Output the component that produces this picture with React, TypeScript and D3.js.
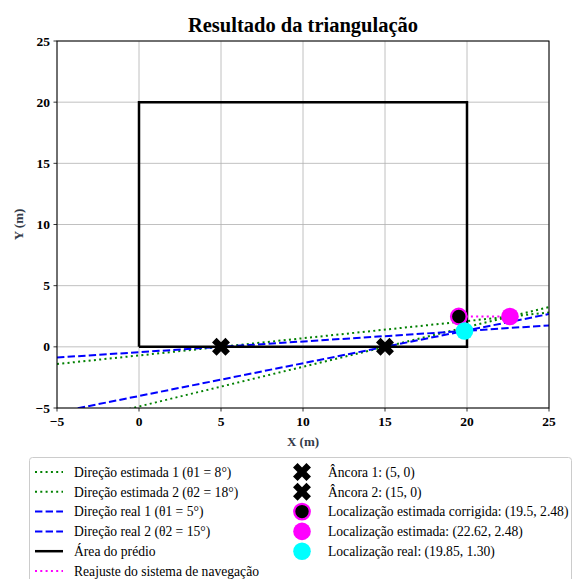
import React from "react";
import * as d3 from "d3";

const W = 574, H = 579;
const M = { left: 57, right: 549, top: 41, bottom: 408 };
const xDomain = [-5, 25];
const yDomain = [-5, 25];
const xTicks = [-5, 0, 5, 10, 15, 20, 25];
const yTicks = [-5, 0, 5, 10, 15, 20, 25];

const anchors = [
  { name: "Âncora 1: (5, 0)", x: 5, y: 0 },
  { name: "Âncora 2: (15, 0)", x: 15, y: 0 },
];
const estAngles = [8, 18];
const realAngles = [5, 15];
const building = [[0, 0], [20, 0], [20, 20], [0, 20], [0, 0]];
const estimated = { x: 22.62, y: 2.48 };
const corrected = { x: 19.5, y: 2.48 };
const real = { x: 19.85, y: 1.3 };

const lineLabels = [
  "Direção estimada 1 (θ1 = 8°)",
  "Direção estimada 2 (θ2 = 18°)",
  "Direção real 1 (θ1 = 5°)",
  "Direção real 2 (θ2 = 15°)",
  "Área do prédio",
  "Reajuste do sistema de navegação",
];
const markerLabels = [
  "Âncora 1: (5, 0)",
  "Âncora 2: (15, 0)",
  "Localização estimada corrigida: (19.5, 2.48)",
  "Localização estimada: (22.62, 2.48)",
  "Localização real: (19.85, 1.30)",
];

const FONT = "Liberation Serif, Times New Roman, DejaVu Serif, serif";
const fmt = (v: number) => (v < 0 ? "\u2212" + Math.abs(v) : String(v));

function xPath(cx: number, cy: number, s: number, a: number) {
  const pts: [number, number][] = [
    [-a, s], [a, s], [a, a], [s, a], [s, -a], [a, -a], [a, -s], [-a, -s], [-a, -a], [-s, -a], [-s, a], [-a, a],
  ];
  const c = Math.SQRT1_2;
  return (
    "M" +
    pts
      .map(([px, py]) => [cx + (px - py) * c, cy + (px + py) * c].map((v) => v.toFixed(2)).join(","))
      .join("L") +
    "Z"
  );
}

export default function App() {
  const x = d3.scaleLinear().domain(xDomain).range([M.left, M.right]);
  const y = d3.scaleLinear().domain(yDomain).range([M.bottom, M.top]);
  const line = d3.line<number[]>().x((d) => x(d[0])).y((d) => y(d[1]));

  const rayPts = (ax: number, ay: number, deg: number) => {
    const t = Math.tan((deg * Math.PI) / 180);
    return [xDomain[0], xDomain[1]].map((xx) => [xx, ay + t * (xx - ax)]);
  };

  const green = "#008000", blue = "#0000ff", magenta = "#ff00ff", cyan = "#00ffff";
  const dotted = "2,3.3";
  const dashed = "7.4,3.2";
  const labelColor = "#333a48";

  const legendRowY = (i: number) => 472 + i * 19.8;

  const lineStyles = [
    { stroke: green, dash: dotted, w: 2 },
    { stroke: green, dash: dotted, w: 2 },
    { stroke: blue, dash: dashed, w: 2 },
    { stroke: blue, dash: dashed, w: 2 },
    { stroke: "#000", dash: "", w: 2.5 },
    { stroke: magenta, dash: dotted, w: 2 },
  ];

  const drawMarker = (i: number, cx: number, cy: number, key: string) => {
    if (i < 2) return <path key={key} d={xPath(cx, cy, 9.5, 3.2)} fill="#000" />;
    if (i === 2) return <circle key={key} cx={cx} cy={cy} r={7.8} fill="#000" stroke={magenta} strokeWidth={2.2} />;
    if (i === 3) return <circle key={key} cx={cx} cy={cy} r={8.8} fill={magenta} />;
    return <circle key={key} cx={cx} cy={cy} r={8.8} fill={cyan} />;
  };

  const markerPts = [anchors[0], anchors[1], corrected, estimated, real];

  return (
    <svg width={W} height={H} fontFamily={FONT} style={{ position: "absolute", left: 0, top: 0 }}>
      <rect width={W} height={H} fill="#fff" />
      <defs>
        <clipPath id="plotclip">
          <rect x={M.left} y={M.top} width={M.right - M.left} height={M.bottom - M.top} />
        </clipPath>
      </defs>
      {xTicks.map((t) => (
        <line key={"gx" + t} x1={x(t)} x2={x(t)} y1={M.top} y2={M.bottom} stroke="#b0b0b0" strokeWidth={0.8} />
      ))}
      {yTicks.map((t) => (
        <line key={"gy" + t} y1={y(t)} y2={y(t)} x1={M.left} x2={M.right} stroke="#b0b0b0" strokeWidth={0.8} />
      ))}
      <g clipPath="url(#plotclip)">
        {estAngles.map((a, i) => (
          <path key={"e" + i} d={line(rayPts(anchors[i].x, anchors[i].y, a)) || ""} fill="none" stroke={green} strokeWidth={2} strokeDasharray={dotted} />
        ))}
        {realAngles.map((a, i) => (
          <path key={"r" + i} d={line(rayPts(anchors[i].x, anchors[i].y, a)) || ""} fill="none" stroke={blue} strokeWidth={2} strokeDasharray={dashed} />
        ))}
        <path d={line(building) || ""} fill="none" stroke="#000" strokeWidth={2.5} strokeLinejoin="miter" />
        <path
          d={line([[estimated.x, estimated.y], [corrected.x, corrected.y]]) || ""}
          fill="none"
          stroke={magenta}
          strokeWidth={2}
          strokeDasharray={dotted}
        />
        {markerPts.map((p, i) => drawMarker(i, x(p.x), y(p.y), "m" + i))}
      </g>
      <rect x={M.left} y={M.top} width={M.right - M.left} height={M.bottom - M.top} fill="none" stroke="#000" strokeWidth={1} />
      {xTicks.map((t) => (
        <g key={"tx" + t}>
          <line x1={x(t)} x2={x(t)} y1={M.bottom} y2={M.bottom + 3.5} stroke="#000" strokeWidth={0.8} />
          <text x={x(t)} y={M.bottom + 18} textAnchor="middle" fontSize={13.5} fontWeight="bold" fontFamily={FONT}>
            {fmt(t)}
          </text>
        </g>
      ))}
      {yTicks.map((t) => (
        <g key={"ty" + t}>
          <line x1={M.left - 3.5} x2={M.left} y1={y(t)} y2={y(t)} stroke="#000" strokeWidth={0.8} />
          <text x={M.left - 7} y={y(t) + 4.5} textAnchor="end" fontSize={13.5} fontWeight="bold" fontFamily={FONT}>
            {fmt(t)}
          </text>
        </g>
      ))}
      <text x={(M.left + M.right) / 2} y={446} textAnchor="middle" fontSize={13} fontWeight="bold" fill={labelColor} fontFamily={FONT}>
        X (m)
      </text>
      <text transform={`translate(22.5,${(M.top + M.bottom) / 2}) rotate(-90)`} textAnchor="middle" fontSize={13} fontWeight="bold" fill={labelColor} fontFamily={FONT}>
        Y (m)
      </text>
      <text x={(M.left + M.right) / 2} y={32} textAnchor="middle" fontSize={20.5} fontWeight="bold" fontFamily={FONT}>
        Resultado da triangulação
      </text>
      <rect x={29.5} y={457.5} width={542} height={140} rx={3} fill="#fff" fillOpacity={0.8} stroke="#cccccc" strokeWidth={1} />
      {lineLabels.map((lab, i) => {
        const ly = legendRowY(i);
        const s = lineStyles[i];
        return (
          <g key={"ll" + i}>
            <line x1={35} x2={63} y1={ly} y2={ly} stroke={s.stroke} strokeWidth={s.w} strokeDasharray={s.dash || undefined} />
            <text x={74} y={ly + 4.7} fontSize={13.6} fontFamily={FONT}>
              {lab}
            </text>
          </g>
        );
      })}
      {markerLabels.map((lab, i) => {
        const ly = legendRowY(i);
        return (
          <g key={"ml" + i}>
            {drawMarker(i, 302, ly, "lm" + i)}
            <text x={328} y={ly + 4.7} fontSize={13.6} fontFamily={FONT}>
              {lab}
            </text>
          </g>
        );
      })}
    </svg>
  );
}
